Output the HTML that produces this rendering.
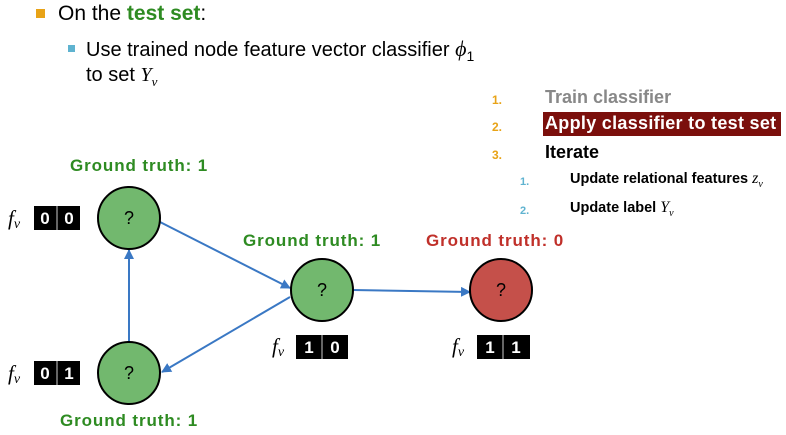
<!DOCTYPE html>
<html><head><style>
body{margin:0;width:786px;height:435px;background:#fff;position:relative;overflow:hidden;font-family:"Liberation Sans",sans-serif}
.a{position:absolute;white-space:nowrap}
.gt{font-weight:bold;font-size:17px;letter-spacing:0.9px;color:#2e8b22}
.m{font-family:"Liberation Serif",serif;font-style:italic}
.lg{font-weight:bold;font-size:18px}
.n{color:#e8a317;font-size:12px;font-weight:bold}
.n2{color:#5fb3d0;font-size:11px;font-weight:bold}
</style></head><body>
<div class="a" style="left:36px;top:9px;width:9px;height:9px;background:#e8a317"></div>
<div class="a" style="left:58px;top:2px;font-size:21px">On the <b style="color:#2e8b22">test set</b>:</div>
<div class="a" style="left:68px;top:45px;width:7px;height:7px;background:#5fb3d0"></div>
<div class="a" style="left:86px;top:36px;font-size:20px">Use trained node feature vector classifier <span class="m" style="font-size:22px">ϕ</span><sub style="font-size:14px">1</sub></div>
<div class="a" style="left:86px;top:64px;font-size:20px">to set <span class="m">Y<sub style="font-size:13px">v</sub></span></div>

<div class="a n" style="left:492px;top:93px">1.</div>
<div class="a lg" style="left:545px;top:87px;color:#888">Train classifier</div>
<div class="a n" style="left:492px;top:120px">2.</div>
<div class="a" style="left:543px;top:112px;width:238px;height:24px;background:#7b0f0c"></div>
<div class="a lg" style="left:545px;top:113px;color:#fff;letter-spacing:0.3px">Apply classifier to test set</div>
<div class="a n" style="left:492px;top:148px">3.</div>
<div class="a lg" style="left:545px;top:142px">Iterate</div>
<div class="a n2" style="left:520px;top:176px">1.</div>
<div class="a" style="left:570px;top:170px;font-size:14.5px;font-weight:bold">Update relational features <span class="m" style="font-weight:normal;font-size:16px">z<sub style="font-size:10px">v</sub></span></div>
<div class="a n2" style="left:520px;top:205px">2.</div>
<div class="a" style="left:570px;top:199px;font-size:14.5px;font-weight:bold">Update label <span class="m" style="font-weight:normal;font-size:16px">Y<sub style="font-size:10px">v</sub></span></div>

<div class="a gt" style="left:70px;top:156px">Ground truth: 1</div>
<div class="a gt" style="left:243px;top:231px">Ground truth: 1</div>
<div class="a gt" style="left:426px;top:231px;color:#c0302a">Ground truth: 0</div>
<div class="a gt" style="left:60px;top:411px">Ground truth: 1</div>

<svg class="a" style="left:0;top:0" width="786" height="435">
<defs><marker id="ar" markerWidth="10" markerHeight="10" refX="9" refY="5" orient="auto" markerUnits="userSpaceOnUse"><path d="M0,0L10,5L0,10z" fill="#3a78c4"/></marker></defs>
<g stroke="#3a78c4" stroke-width="2" marker-end="url(#ar)">
<line x1="160" y1="222" x2="290" y2="288"/>
<line x1="129" y1="342" x2="129" y2="250"/>
<line x1="290" y1="297" x2="162" y2="372"/>
<line x1="353" y1="290" x2="470" y2="292"/>
</g>
<g stroke="#000" stroke-width="2">
<circle cx="129" cy="218" r="31" fill="#72b86e"/>
<circle cx="129" cy="373" r="31" fill="#72b86e"/>
<circle cx="322" cy="290" r="31" fill="#72b86e"/>
<circle cx="501" cy="290" r="31" fill="#c5504a"/>
</g>
<g font-size="18" text-anchor="middle" font-family="Liberation Sans">
<text x="129" y="224">?</text><text x="129" y="379">?</text><text x="322" y="296">?</text><text x="501" y="296">?</text>
</g>
<g fill="#000">
<rect x="34" y="206" width="46" height="24"/><rect x="34" y="361" width="46" height="24"/>
<rect x="296" y="335" width="52" height="24"/><rect x="477" y="335" width="53" height="24"/>
</g>
<g stroke="#ccc" stroke-width="1"><line x1="57" y1="206" x2="57" y2="230"/><line x1="57" y1="361" x2="57" y2="385"/><line x1="322" y1="335" x2="322" y2="359"/><line x1="503" y1="335" x2="503" y2="359"/></g>
<g fill="#fff" font-weight="bold" font-size="17" text-anchor="middle" font-family="Liberation Sans">
<text x="45" y="224">0</text><text x="69" y="224">0</text>
<text x="45" y="379">0</text><text x="69" y="379">1</text>
<text x="309" y="353">1</text><text x="335" y="353">0</text>
<text x="490" y="353">1</text><text x="516" y="353">1</text>
</g>
<g font-family="Liberation Serif" font-style="italic" font-size="21">
<text x="8" y="225">f<tspan font-size="14" dy="3">v</tspan></text>
<text x="8" y="380">f<tspan font-size="14" dy="3">v</tspan></text>
<text x="272" y="353">f<tspan font-size="14" dy="3">v</tspan></text>
<text x="452" y="353">f<tspan font-size="14" dy="3">v</tspan></text>
</g>
</svg>
</body></html>
